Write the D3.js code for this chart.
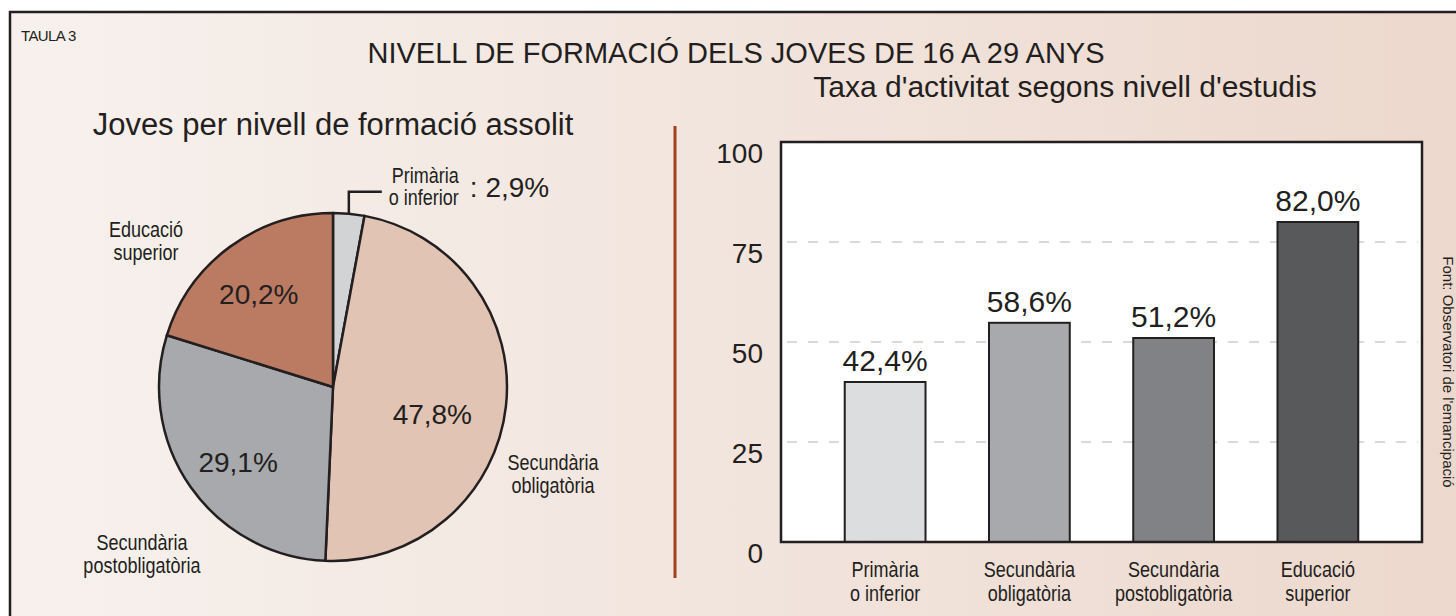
<!DOCTYPE html>
<html lang="ca">
<head>
  <meta charset="UTF-8">
  <title>Nivell de formació dels joves de 16 a 29 anys</title>
  <script src="https://d3js.org/d3.v7.min.js"></script>
  <style>
    body { margin: 0; background: #fff; }
    text { font-family: "Liberation Sans", Arial, sans-serif; fill: #231f20; }
  </style>
</head>
<body>
  <svg id="chart" width="1456" height="616"></svg>

  <script>
    // pie: young people by education level reached (%)
    const pieCategories = [["Primària", "o inferior"], ["Secundària", "obligatòria"], ["Secundària", "postobligatòria"], ["Educació", "superior"]];
    const pieValues = [2.9, 47.8, 29.1, 20.2];
    const pieColors = ["#d1d3d4", "#e1c4b3", "#a7a9ac", "#bb7a62"];

    // bars: activity rate by education level
    const barCategories = [["Primària", "o inferior"], ["Secundària", "obligatòria"], ["Secundària", "postobligatòria"], ["Educació", "superior"]];
    const barHeights = [40.0, 54.8, 51.0, 80.0];   // as drawn
    const barLabels = [42.4, 58.6, 51.2, 82.0];    // as printed
    const barColors = ["#dcdddf", "#a7a9ac", "#808285", "#58595b"];
    const yTicks = [0, 25, 50, 75, 100];

    const fmt = v => v.toFixed(1).replace(".", ",") + "%";
    const svg = d3.select("#chart");

    // no condensed font installed -> squeeze regular one horizontally
    function narrowText(parent, lines, x, y, anchor, lh) {
      const t = parent.append("g")
        .attr("transform", `translate(${x},${y}) scale(0.82,1)`)
        .append("text")
        .attr("font-size", 22)
        .attr("text-anchor", anchor);
      lines.forEach((s, j) => t.append("tspan").attr("x", 0).attr("y", j * lh).text(s));
      return t;
    }

    // background + frame
    const defs = svg.append("defs");
    const grad = defs.append("linearGradient").attr("id", "bg").attr("x1", "0%").attr("x2", "100%");
    grad.append("stop").attr("offset", "0%").attr("stop-color", "#f7f1ed");
    grad.append("stop").attr("offset", "100%").attr("stop-color", "#ecd8cd");
    svg.append("rect")
      .attr("x", 10).attr("y", 12).attr("width", 1470).attr("height", 620)
      .attr("fill", "url(#bg)").attr("stroke", "#231f20").attr("stroke-width", 2.5);

    svg.append("text").attr("x", 21).attr("y", 41).attr("font-size", 15).attr("letter-spacing", -0.6).text("TAULA 3");
    svg.append("text").attr("x", 736).attr("y", 63).attr("text-anchor", "middle").attr("font-size", 29)
      .text("NIVELL DE FORMACIÓ DELS JOVES DE 16 A 29 ANYS");

    // ---------- pie ----------
    const cx = 333, cy = 387, R = 174;
    svg.append("text").attr("x", 333).attr("y", 135).attr("text-anchor", "middle").attr("font-size", 31)
      .text("Joves per nivell de formació assolit");

    const pie = d3.pie().sort(null).value(d => d);
    const arcs = pie(pieValues);
    const arc = d3.arc().innerRadius(0).outerRadius(R);
    const gPie = svg.append("g").attr("transform", `translate(${cx},${cy})`);

    gPie.selectAll("path")
      .data(arcs)
      .join("path")
      .attr("d", arc)
      .attr("fill", (d, i) => pieColors[i])
      .attr("stroke", "#231f20")
      .attr("stroke-width", 2.5)
      .attr("stroke-linejoin", "round");

    // percentages inside the big slices
    const labelArc = d3.arc().innerRadius(105).outerRadius(105);
    const pctNudge = [null, [-5, 25], [-9, 25], [-12, 2]];
    gPie.selectAll("text.pct")
      .data(arcs.filter((d, i) => i > 0))
      .join("text")
      .attr("class", "pct")
      .attr("text-anchor", "middle")
      .attr("font-size", 28)
      .attr("x", d => labelArc.centroid(d)[0] + pctNudge[d.index][0])
      .attr("y", d => labelArc.centroid(d)[1] + pctNudge[d.index][1])
      .text(d => fmt(d.value));

    // leader for the small slice
    const a0 = (arcs[0].startAngle + arcs[0].endAngle) / 2;
    const px = Math.sin(a0) * R, py = -Math.cos(a0) * R;
    gPie.append("path")
      .attr("d", `M${px},${py}V${py - 22}H${px + 33}`)
      .attr("fill", "none").attr("stroke", "#231f20").attr("stroke-width", 2.5);
    narrowText(gPie, pieCategories[0], px + 110, py - 31, "end", 22);
    gPie.append("text").attr("x", px + 121).attr("y", py - 17).attr("font-size", 28)
      .text(": " + fmt(pieValues[0]));

    // category names around the pie
    const namePos = [null, [220, 83], [-191, 163], [-187, -150]];
    [1, 2, 3].forEach(i => narrowText(gPie, pieCategories[i], namePos[i][0], namePos[i][1], "middle", 23));

    // divider
    svg.append("line").attr("x1", 675).attr("x2", 675).attr("y1", 126).attr("y2", 578)
      .attr("stroke", "#a0401f").attr("stroke-width", 3);

    // ---------- bars ----------
    const plot = { left: 781, right: 1422, top: 142, bottom: 542 };
    svg.append("text").attr("x", 1065).attr("y", 97).attr("text-anchor", "middle").attr("font-size", 30)
      .text("Taxa d'activitat segons nivell d'estudis");

    const y = d3.scaleLinear().domain([0, 100]).range([plot.bottom, plot.top]);
    const x = d3.scaleBand()
      .domain(barCategories.map(d => d.join(" ")))
      .range([813, 1390])
      .paddingInner(0.44)
      .paddingOuter(0.22);

    svg.append("rect")
      .attr("x", plot.left).attr("y", plot.top)
      .attr("width", plot.right - plot.left).attr("height", plot.bottom - plot.top)
      .attr("fill", "#fff");

    svg.append("g")
      .selectAll("line")
      .data(yTicks.filter(t => t > 0 && t < 100))
      .join("line")
      .attr("x1", plot.left + 6).attr("x2", plot.right - 4)
      .attr("y1", d => y(d)).attr("y2", d => y(d))
      .attr("stroke", "#d9d9d9").attr("stroke-width", 2).attr("stroke-dasharray", "10,11");

    const yAxis = svg.append("g")
      .attr("transform", `translate(${plot.left},0)`)
      .call(d3.axisLeft(y).tickValues(yTicks).tickSize(0).tickPadding(18));
    yAxis.select(".domain").remove();
    yAxis.selectAll("text")
      .attr("font-size", 28)
      .attr("font-family", "Liberation Sans, Arial, sans-serif")
      .attr("fill", "#231f20")
      .attr("transform", "translate(0,12)");

    const bars = svg.append("g");
    bars.selectAll("rect")
      .data(barHeights)
      .join("rect")
      .attr("x", (d, i) => x(barCategories[i].join(" ")))
      .attr("width", x.bandwidth())
      .attr("y", d => y(d))
      .attr("height", d => y(0) - y(d))
      .attr("fill", (d, i) => barColors[i])
      .attr("stroke", "#231f20")
      .attr("stroke-width", 2);

    bars.selectAll("text")
      .data(barLabels)
      .join("text")
      .attr("text-anchor", "middle")
      .attr("font-size", 30)
      .attr("x", (d, i) => x(barCategories[i].join(" ")) + x.bandwidth() / 2)
      .attr("y", (d, i) => y(barHeights[i]) - 11)
      .text(d => fmt(d));

    // plot frame on top
    svg.append("rect")
      .attr("x", plot.left).attr("y", plot.top)
      .attr("width", plot.right - plot.left).attr("height", plot.bottom - plot.top)
      .attr("fill", "none").attr("stroke", "#231f20").attr("stroke-width", 2.5);

    // category labels under the bars
    barCategories.forEach(c => narrowText(svg, c, x(c.join(" ")) + x.bandwidth() / 2, 577, "middle", 24));

    // source, rotated
    svg.append("text")
      .attr("transform", "translate(1443,372) rotate(90)")
      .attr("text-anchor", "middle")
      .attr("font-size", 15)
      .text("Font: Observatori de l'emancipació");
  </script>
</body>
</html>
